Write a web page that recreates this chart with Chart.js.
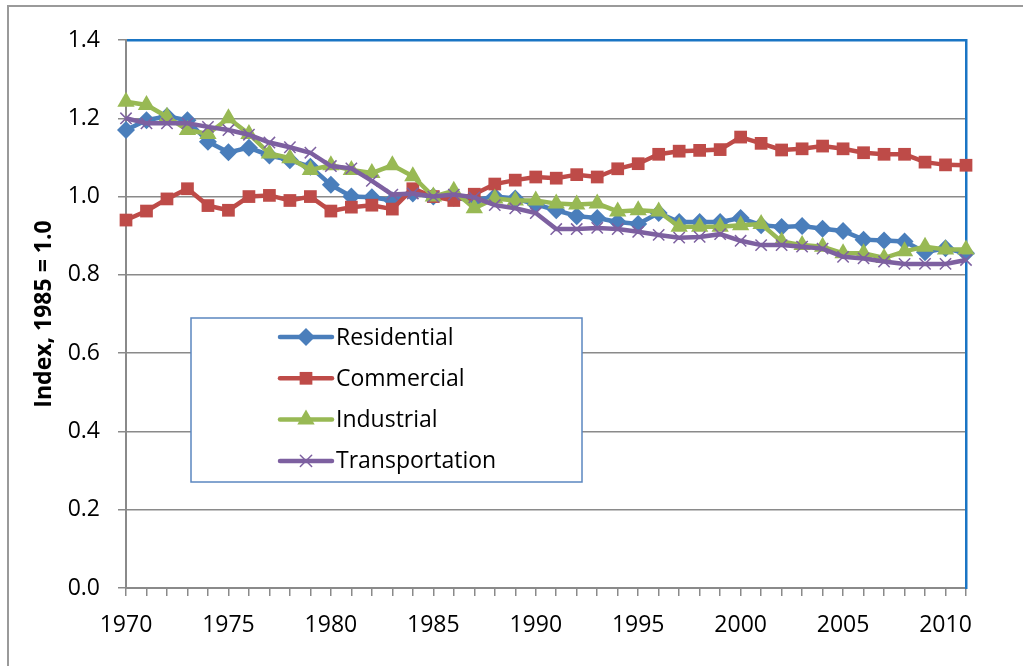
<!DOCTYPE html>
<html>
<head>
<meta charset="utf-8">
<script src="https://cdn.jsdelivr.net/npm/chart.js@4.4.0/dist/chart.umd.min.js"></script>
<style>
  html, body { margin: 0; padding: 0; background: #fff; }
  #wrap { width: 1023px; height: 666px; position: relative; }
</style>
</head>
<body>
<div id="wrap"><canvas id="grafico" width="1023" height="666"></canvas></div>
<script>
const anos = [];
for (let a = 1970; a <= 2011; a++) anos.push(a);

const residencial = [
  1.17, 1.195, 1.205, 1.195, 1.14, 1.113, 1.125, 1.105, 1.093, 1.076,
  1.03, 1.0, 0.998, 0.99, 1.008, 1.0, 0.997, 0.99, 1.0, 0.995,
  0.98, 0.965, 0.95, 0.945, 0.935, 0.93, 0.958, 0.935, 0.935, 0.935,
  0.945, 0.927, 0.922, 0.925, 0.918, 0.912, 0.89, 0.888, 0.885, 0.858,
  0.868, 0.855
];
const comercial = [
  0.94, 0.963, 0.994, 1.02, 0.977, 0.965, 1.0, 1.003, 0.99, 1.0,
  0.963, 0.973, 0.978, 0.968, 1.02, 1.0, 0.99, 1.006, 1.032, 1.042,
  1.05, 1.047, 1.056, 1.05, 1.071, 1.084, 1.108, 1.116, 1.118, 1.12,
  1.152, 1.136, 1.119, 1.122, 1.129, 1.122, 1.112, 1.108, 1.108, 1.088,
  1.081, 1.08
];
const industrial = [
  1.242, 1.234, 1.204, 1.17, 1.16, 1.2, 1.16, 1.11, 1.098, 1.068,
  1.08, 1.068, 1.06, 1.08, 1.052, 1.0, 1.015, 0.97, 0.995, 0.99,
  0.99, 0.982, 0.98, 0.982, 0.962, 0.965, 0.962, 0.923, 0.923, 0.923,
  0.927, 0.93, 0.885, 0.876, 0.872, 0.855, 0.855, 0.843, 0.86, 0.872,
  0.865, 0.865
];
const transporte = [
  1.2, 1.187, 1.187, 1.187, 1.178, 1.17, 1.158, 1.138, 1.126, 1.112,
  1.078, 1.072, 1.04, 1.005, 1.008, 1.0, 1.005, 0.998, 0.978, 0.97,
  0.958, 0.917, 0.917, 0.92, 0.917, 0.91, 0.902, 0.895, 0.897, 0.904,
  0.887, 0.876, 0.876, 0.872, 0.867, 0.846, 0.842, 0.834, 0.828, 0.828,
  0.828, 0.838
];
const nomesSeries = ["Residential", "Commercial", "Industrial", "Transportation"];
const ticksY = [0, 0.2, 0.4, 0.6, 0.8, 1.0, 1.2, 1.4];

const fonte = "'Open Sans', Lato, sans-serif";
const cinza = "#8a8a8a";
const azulBorda = "#1a75c4";

function serie(nome, valores, cor, estilo, raio, ordem) {
  return {
    label: nome,
    data: anos.map((a, i) => ({ x: a, y: valores[i] })),
    borderColor: cor,
    backgroundColor: cor,
    pointBackgroundColor: cor,
    pointBorderColor: cor,
    pointBorderWidth: estilo === "crossRot" ? 1.5 : 0,
    pointStyle: estilo,
    pointRadius: raio,
    pointHoverRadius: raio,
    borderWidth: 4.5,
    tension: 0,
    clip: false,
    order: ordem
  };
}

// moldura externa cinza
const moldura = {
  id: "moldura",
  beforeDraw(chart) {
    const ctx = chart.ctx;
    ctx.save();
    ctx.strokeStyle = "#9a9a9a";
    ctx.lineWidth = 2;
    ctx.strokeRect(8, 6, 1100, 800);
    ctx.restore();
  }
};

// legenda dentro do grafico
const legenda = {
  id: "legendaInterna",
  afterDraw(chart) {
    const ctx = chart.ctx;
    ctx.save();
    ctx.fillStyle = "#fff";
    ctx.fillRect(191, 318, 391, 164);
    ctx.strokeStyle = "#5b87c0";
    ctx.lineWidth = 1.5;
    ctx.strokeRect(191, 318, 391, 164);
    chart.data.datasets.forEach((ds, i) => {
      const y = 337 + i * 41.3;
      ctx.strokeStyle = ds.borderColor;
      ctx.lineWidth = 4.5;
      ctx.lineCap = "round";
      ctx.beginPath();
      ctx.moveTo(280, y);
      ctx.lineTo(332, y);
      ctx.stroke();
      ctx.fillStyle = ds.pointBackgroundColor;
      ctx.strokeStyle = ds.pointBorderColor;
      ctx.lineWidth = ds.pointBorderWidth;
      Chart.helpers.drawPoint(ctx, { pointStyle: ds.pointStyle, radius: ds.pointRadius, borderWidth: ds.pointBorderWidth, rotation: 0 }, 306, y);
      ctx.fillStyle = "#000";
      ctx.font = "23px " + fonte;
      ctx.textBaseline = "middle";
      ctx.textAlign = "left";
      ctx.fillText(ds.label, 336, y + 1);
    });
    ctx.restore();
  }
};

new Chart(document.getElementById("grafico"), {
  type: "line",
  data: {
    datasets: [
      serie(nomesSeries[0], residencial, "#4a7ebb", "rectRot", 9, 4),
      serie(nomesSeries[1], comercial, "#be4b48", "rect", 9, 3),
      serie(nomesSeries[2], industrial, "#98b954", "triangle", 10, 2),
      serie(nomesSeries[3], transporte, "#7d60a0", "crossRot", 8, 1)
    ]
  },
  options: {
    responsive: false,
    animation: false,
    events: [],
    layout: { padding: 0 },
    plugins: { legend: { display: false }, tooltip: { enabled: false } },
    scales: {
      x: {
        type: "linear",
        position: "bottom",
        min: 1970,
        max: 2011,
        afterFit: s => { s.height = 78; },
        afterBuildTicks: s => { s.ticks = anos.map(a => ({ value: a })); },
        ticks: {
          autoSkip: false,
          maxRotation: 0,
          padding: 16,
          color: "#000",
          font: { family: fonte, size: 23 },
          callback: v => (v % 5 === 0 ? String(v) : "")
        },
        grid: { drawOnChartArea: false, drawTicks: true, tickLength: 8, color: cinza, lineWidth: 1.5 },
        border: { color: cinza, width: 2 }
      },
      x2: {
        type: "linear",
        position: "top",
        display: true,
        min: 1970,
        max: 2011,
        afterFit: s => { s.height = 40; },
        ticks: { display: false },
        grid: { display: false, drawTicks: false },
        border: { color: azulBorda, width: 2.5 }
      },
      y: {
        position: "left",
        min: 0,
        max: 1.4,
        afterFit: s => { s.width = 126; },
        afterBuildTicks: s => { s.ticks = ticksY.map(v => ({ value: v })); },
        ticks: {
          padding: 18,
          color: "#000",
          font: { family: fonte, size: 23 },
          callback: v => v.toFixed(1)
        },
        grid: { color: cinza, lineWidth: 1.5, tickLength: 8 },
        border: { color: cinza, width: 2 },
        title: {
          display: true,
          text: "Index, 1985 = 1.0",
          color: "#000",
          font: { family: fonte, size: 23, weight: "bold" },
          padding: { top: 31, bottom: 4 }
        }
      },
      y2: {
        position: "right",
        display: true,
        min: 0,
        max: 1.4,
        afterFit: s => { s.width = 57; },
        ticks: { display: false },
        grid: { display: false, drawTicks: false },
        border: { color: azulBorda, width: 2.5 }
      }
    }
  },
  plugins: [moldura, legenda]
});
</script>
</body>
</html>
